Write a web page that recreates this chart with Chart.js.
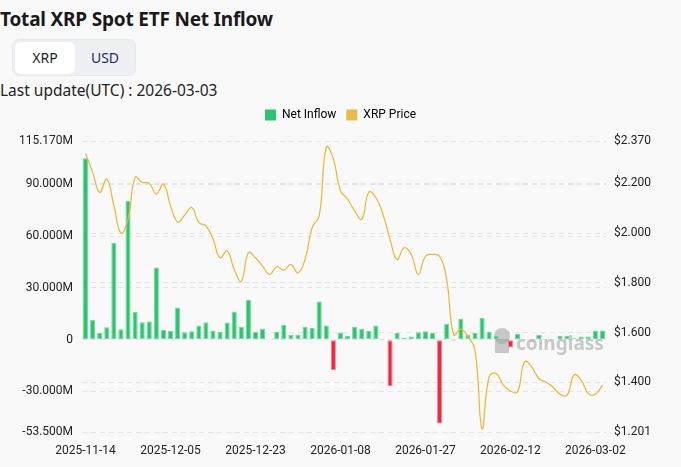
<!DOCTYPE html>
<html>
<head>
<meta charset="utf-8">
<script src="https://cdn.jsdelivr.net/npm/chart.js@4.4.1/dist/chart.umd.min.js"></script>
<style>
  html, body { margin: 0; padding: 0; background: #f9f9f9; }
  body { width: 681px; height: 467px; position: relative; overflow: hidden; font-family: "Noto Sans", Roboto, sans-serif; color: #1a1a1a; }
  .titulo { position: absolute; left: 0; top: 6px; font-size: 19px; font-weight: 700; letter-spacing: -0.2px; }
  .toggle { position: absolute; left: 12px; top: 39px; width: 124px; height: 37px; background: #eef0f3; border: 1px solid #e6e8eb; border-radius: 7px; box-sizing: border-box; }
  .toggle span { position: absolute; top: 2px; height: 32px; line-height: 32px; text-align: center; font-size: 14px; }
  .toggle .ativo { left: 2px; width: 60px; background: #ffffff; border-radius: 6px; color: #1e1e1e; }
  .toggle .outro { left: 64px; width: 56px; color: #1d2e62; }
  .update { position: absolute; left: 0; top: 79px; font-size: 15.5px; color: #222; }
  .wrap { position: absolute; left: 0; top: 99px; width: 681px; height: 357px; }
</style>
</head>
<body>
<div class="titulo">Total XRP Spot ETF Net Inflow</div>
<div class="toggle"><span class="ativo">XRP</span><span class="outro">USD</span></div>
<div class="update">Last update(UTC) : 2026-03-03</div>
<div class="wrap"><canvas id="grafico"></canvas></div>

<script>
// dados
const datas = [
  '2025-11-14','2025-11-17','2025-11-18','2025-11-19','2025-11-20','2025-11-21','2025-11-24','2025-11-25','2025-11-26','2025-12-02',
  '2025-12-03','2025-12-04','2025-12-05','2025-12-08','2025-12-09','2025-12-10','2025-12-11','2025-12-12','2025-12-15','2025-12-16',
  '2025-12-17','2025-12-18','2025-12-19','2025-12-22','2025-12-23','2025-12-24','2025-12-25','2025-12-26','2025-12-29','2025-12-30',
  '2025-12-31','2026-01-01','2026-01-02','2026-01-05','2026-01-06','2026-01-07','2026-01-08','2026-01-09','2026-01-12','2026-01-13',
  '2026-01-14','2026-01-15','2026-01-16','2026-01-20','2026-01-21','2026-01-22','2026-01-23','2026-01-26','2026-01-27','2026-01-28',
  '2026-01-29','2026-01-30','2026-02-02','2026-02-03','2026-02-04','2026-02-05','2026-02-06','2026-02-09','2026-02-10','2026-02-11',
  '2026-02-12','2026-02-13','2026-02-16','2026-02-17','2026-02-18','2026-02-19','2026-02-20','2026-02-23','2026-02-24','2026-02-25',
  '2026-02-26','2026-02-27','2026-03-02','2026-03-03'
];

// net inflow em milhões de XRP
const netInflow = [
  105.1, 11.5, 3.9, 7.2, 56.2, 6.0, 80.5, 16.1, 10.1, 10.5,
  41.8, 5.8, 5.1, 18.7, 4.3, 4.9, 8.2, 10.1, 5.4, 4.5,
  9.9, 16.3, 7.4, 23.0, 4.5, 6.4, 0, 4.5, 8.6, 2.9,
  2.9, 7.4, 6.8, 22.2, 8.2, -17.5, 4.1, 2.3, 7.4, 6.4,
  5.1, 8.2, 0.6, -26.8, 3.9, 1.2, 1.8, 4.3, 4.9, 3.9,
  -48.6, 9.3, -0.6, 12.1, 2.9, 3.9, 12.6, 4.5, 2.3, 0,
  -4.5, 3.3, 0, -1.2, 2.9, 0, 0, 2.3, 2.3, 0.8,
  1.8, 1.8, 5.3, 5.4
];

// preço do XRP em USD
const xrpPrice = [
  2.32, 2.245, 2.164, 2.217, 2.11, 2.0, 2.056, 2.224, 2.204, 2.2,
  2.157, 2.197, 2.11, 2.045, 2.072, 2.103, 2.042, 2.029, 1.975, 1.901,
  1.928, 1.854, 1.806, 1.921, 1.901, 1.867, 1.834, 1.865, 1.851, 1.874,
  1.84, 1.894, 2.022, 2.069, 2.345, 2.298, 2.17, 2.137, 2.089, 2.056,
  2.164, 2.143, 2.076, 1.975, 1.894, 1.941, 1.914, 1.834, 1.907, 1.914,
  1.907, 1.813, 1.591, 1.614, 1.584, 1.53, 1.214, 1.423, 1.436, 1.389,
  1.366, 1.362, 1.483, 1.463, 1.416, 1.402, 1.382, 1.353, 1.349, 1.43,
  1.409, 1.355, 1.353, 1.389
];

// ticks dos eixos
const ticksInflow = [-53.5, -30, 0, 30, 60, 90, 115.17];
const ticksPreco = [1.201, 1.4, 1.6, 1.8, 2.0, 2.2, 2.37];

const VERDE = '#2bc56f';
const VERDE_BORDA = '#6fdc9c';
const VERMELHO = '#f0263f';
const VERMELHO_BORDA = '#f7818f';
const LARANJA = '#f0b530';

// espaço extra abaixo da legenda
const legendaGap = {
  id: 'legendaGap',
  beforeInit(chart) {
    const fitOriginal = chart.legend.fit;
    chart.legend.fit = function () {
      fitOriginal.bind(chart.legend)();
      this.height += 10;
    };
  }
};

// marca d'água
const marcaDagua = {
  id: 'marcaDagua',
  beforeDatasetsDraw(chart) {
    const ctx = chart.ctx;
    ctx.save();
    ctx.fillStyle = 'rgba(160,160,160,0.55)';
    ctx.beginPath();
    ctx.arc(502, 237, 8, 0, Math.PI * 2);
    ctx.fill();
    ctx.fillRect(495, 240, 14, 14);
    ctx.font = 'bold 19px "Noto Sans", sans-serif';
    ctx.textBaseline = 'middle';
    ctx.fillText('coinglass', 516, 246);
    ctx.restore();
  }
};

new Chart(document.getElementById('grafico'), {
  type: 'bar',
  data: {
    labels: datas,
    datasets: [
      {
        type: 'line',
        label: 'XRP Price',
        data: xrpPrice,
        yAxisID: 'yPreco',
        borderColor: LARANJA,
        backgroundColor: '#e9b949',
        borderWidth: 1.2,
        pointRadius: 0,
        tension: 0.45,
        order: 0
      },
      {
        label: 'Net Inflow',
        data: netInflow,
        yAxisID: 'yInflow',
        backgroundColor: ctx => (ctx.raw < 0 ? VERMELHO : VERDE),
        borderColor: ctx => (ctx.raw < 0 ? VERMELHO_BORDA : VERDE_BORDA),
        borderWidth: 1,
        borderSkipped: false,
        categoryPercentage: 1,
        barPercentage: 0.72,
        order: 1
      }
    ]
  },
  options: {
    responsive: true,
    maintainAspectRatio: false,
    animation: false,
    layout: { padding: 0 },
    plugins: {
      legend: {
        display: true,
        labels: {
          boxWidth: 11,
          boxHeight: 11,
          padding: 10,
          color: '#333',
          font: { size: 12, family: 'Roboto, "Noto Sans", sans-serif' },
          generateLabels(chart) {
            return [
              { text: 'Net Inflow', fillStyle: VERDE, strokeStyle: VERDE, lineWidth: 0, datasetIndex: 1 },
              { text: 'XRP Price', fillStyle: '#e9b949', strokeStyle: '#e9b949', lineWidth: 0, datasetIndex: 0 }
            ];
          }
        }
      },
      tooltip: { enabled: false }
    },
    scales: {
      x: {
        offset: true,
        grid: { display: false },
        border: { display: false },
        afterFit(scale) { scale.height = 24; },
        ticks: {
          autoSkip: false,
          maxRotation: 0,
          padding: 4,
          color: '#222',
          font: { size: 12, family: 'Roboto, sans-serif' },
          callback(value, index) {
            return index % 12 === 0 ? datas[index] : null;
          }
        }
      },
      yInflow: {
        position: 'left',
        min: -53.5,
        max: 115.17,
        afterBuildTicks(scale) { scale.ticks = ticksInflow.map(v => ({ value: v })); },
        afterFit(scale) { scale.width = 82; },
        grid: { color: '#e4e4e4', drawTicks: false },
        border: { display: false, dash: [5, 4] },
        ticks: {
          padding: 9,
          color: '#222',
          font: { size: 12, family: 'Roboto, sans-serif' },
          callback(value) { return value === 0 ? '0' : value.toFixed(3) + 'M'; }
        }
      },
      yPreco: {
        position: 'right',
        min: 1.201,
        max: 2.37,
        afterBuildTicks(scale) { scale.ticks = ticksPreco.map(v => ({ value: v })); },
        afterFit(scale) { scale.width = 75; },
        grid: { color: '#e4e4e4', drawTicks: false },
        border: { display: false, dash: [5, 4] },
        ticks: {
          padding: 8,
          color: '#222',
          font: { size: 12, family: 'Roboto, sans-serif' },
          callback(value) { return '$' + value.toFixed(3); }
        }
      }
    }
  },
  plugins: [legendaGap, marcaDagua]
});
</script>
</body>
</html>
